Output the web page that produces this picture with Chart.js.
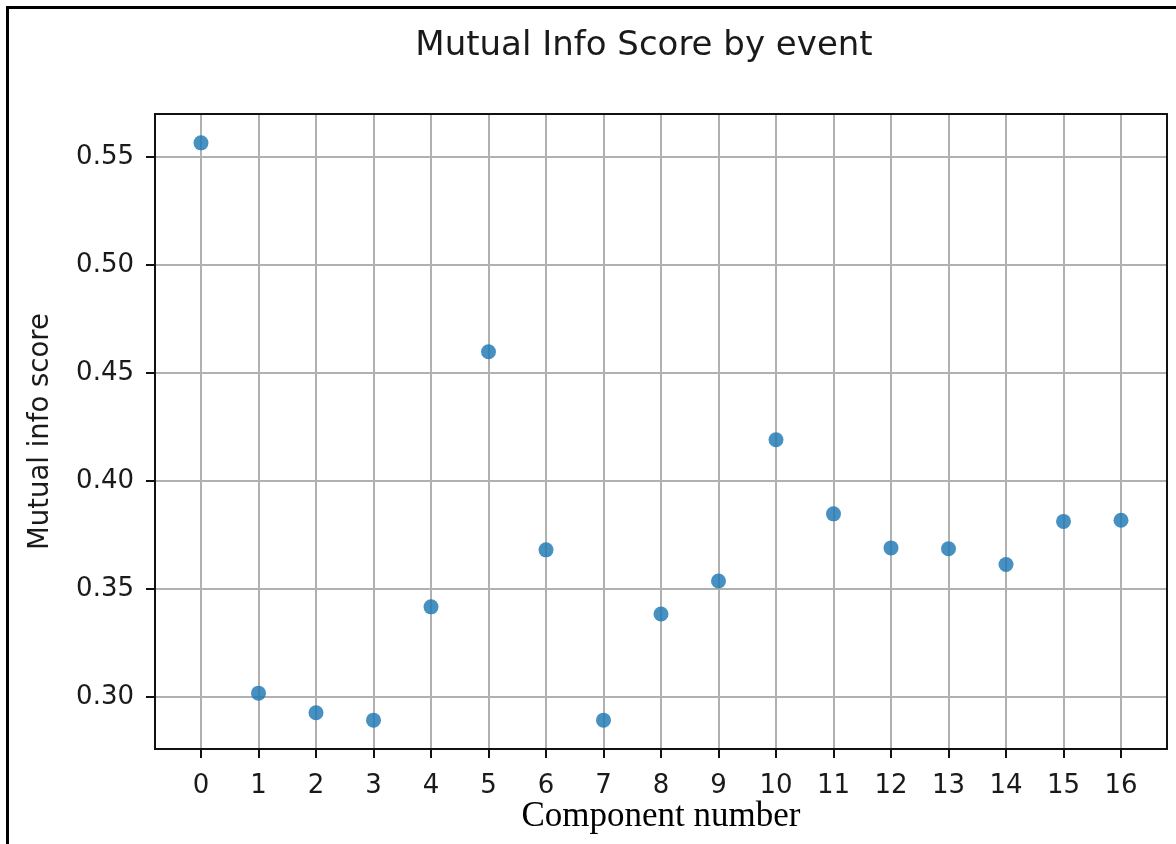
<!DOCTYPE html>
<html>
<head>
<meta charset="utf-8">
<script src="https://cdn.jsdelivr.net/npm/chart.js@4.4.1/dist/chart.umd.min.js"></script>
<style>
  body { margin: 0; background: #fff; width: 1176px; height: 844px; overflow: hidden; position: relative; }
  #frame { position: absolute; left: 6px; top: 6px; width: 1180px; height: 900px; border-left: 3px solid #000; border-top: 3px solid #000; box-sizing: border-box; pointer-events: none; }
  #chart { position: absolute; left: 0; top: 0; }
</style>
</head>
<body>
<canvas id="chart" width="1176" height="844"></canvas>
<div id="frame"></div>
<script>
// Mutual info score per component
const components = [0, 1, 2, 3, 4, 5, 6, 7, 8, 9, 10, 11, 12, 13, 14, 15, 16];
const scores = [0.5567, 0.3017, 0.2926, 0.2892, 0.3417, 0.4599, 0.3681, 0.2892, 0.3384,
                0.3537, 0.4191, 0.3848, 0.3690, 0.3686, 0.3613, 0.3813, 0.3818];
const yTicks = [0.30, 0.35, 0.40, 0.45, 0.50, 0.55];
const xTicks = components;

const points = components.map((c, i) => ({ x: c, y: scores[i] }));

// matplotlib style: 5% margin around the data
const xPad = (Math.max(...components) - Math.min(...components)) * 0.05;
const yPad = (Math.max(...scores) - Math.min(...scores)) * 0.05;

const tickFont = { family: 'DejaVu Sans', size: 26 };

// title + top/right spines
const extras = {
    id: 'extras',
    afterDraw(chart) {
        const { ctx, chartArea } = chart;
        ctx.save();
        ctx.strokeStyle = '#111';
        ctx.lineWidth = 2;
        ctx.strokeRect(chartArea.left, chartArea.top, chartArea.right - chartArea.left, chartArea.bottom - chartArea.top);
        ctx.fillStyle = '#1a1a1a';
        ctx.font = '34px "DejaVu Sans"';
        ctx.textAlign = 'center';
        ctx.textBaseline = 'middle';
        ctx.fillText('Mutual Info Score by event', 644, 46);
        ctx.restore();
    }
};

const config = {
    type: 'scatter',
    data: {
        datasets: [{
            label: 'score',
            data: points,
            backgroundColor: 'rgba(31, 119, 180, 0.82)',
            borderWidth: 0,
            pointRadius: 7.5,
            pointHoverRadius: 7.5,
        }]
    },
    options: {
        responsive: false,
        animation: false,
        layout: { padding: { left: 0, right: 9, top: 114, bottom: 0 } },
        plugins: {
            legend: { display: false },
            tooltip: { enabled: false },
            title: { display: false },
        },
        scales: {
            x: {
                type: 'linear',
                min: Math.min(...components) - xPad,
                max: Math.max(...components) + xPad,
                afterBuildTicks: (s) => { s.ticks = xTicks.map(v => ({ value: v })); },
                afterFit: (s) => { s.height = 95; },
                grid: { color: '#b0b0b0', lineWidth: 2, tickLength: 9, tickColor: '#111', tickWidth: 2 },
                border: { color: '#111', width: 2 },
                ticks: { font: tickFont, color: '#1a1a1a', padding: 13, maxRotation: 0, autoSkip: false },
                title: {
                    display: true,
                    text: 'Component number',
                    font: { family: 'Liberation Serif', size: 35 },
                    color: '#000',
                    padding: { top: 0, bottom: 6 },
                },
            },
            y: {
                type: 'linear',
                min: Math.min(...scores) - yPad,
                max: Math.max(...scores) + yPad,
                afterBuildTicks: (s) => { s.ticks = yTicks.map(v => ({ value: v })); },
                afterFit: (s) => { s.width = 155; },
                grid: { color: '#b0b0b0', lineWidth: 2, tickLength: 9, tickColor: '#111', tickWidth: 2 },
                border: { color: '#111', width: 2 },
                ticks: { font: tickFont, color: '#1a1a1a', padding: 12, callback: (v) => v.toFixed(2) },
                title: {
                    display: true,
                    text: 'Mutual info score',
                    font: { family: 'DejaVu Sans', size: 27.5 },
                    color: '#1a1a1a',
                    padding: { top: 24, bottom: 0 },
                },
            },
        },
    },
    plugins: [extras],
};

const scoreChart = new Chart(document.getElementById('chart'), config);
</script>
</body>
</html>
